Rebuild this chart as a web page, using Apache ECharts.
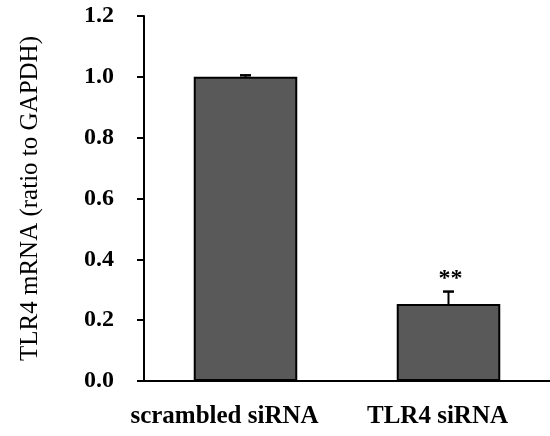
<!DOCTYPE html>
<html>
<head>
<meta charset="utf-8">
<script src="https://cdn.jsdelivr.net/npm/echarts@6/dist/echarts.min.js"></script>
<style>html,body{margin:0;padding:0;background:#fff}#c{width:550px;height:436px}</style>
</head>
<body>
<div id="c"></div>
<script>
var categories = ['scrambled siRNA', 'TLR4 siRNA'];
var values = [1.0, 0.253];
var errors = [0.005, 0.041];
var significance = ['', '**'];
var yTicks = [0, 0.2, 0.4, 0.6, 0.8, 1.0, 1.2];

var chart = echarts.init(document.getElementById('c'));
var font = '"Liberation Serif","Times New Roman",serif';
chart.setOption({
  animation: false,
  grid: { left: 144, right: -9, top: 16, bottom: 55 },
  xAxis: {
    type: 'category',
    data: categories,
    axisLine: { lineStyle: { color: '#000', width: 2 } },
    axisTick: { show: false },
    axisLabel: {
      interval: 0,
      hideOverlap: false,
      color: '#000', fontFamily: font, fontWeight: 'bold', fontSize: 25, margin: 23,
      formatter: function (v, i) { return '{c' + i + '|' + v + '}'; },
      rich: {
        c0: { fontFamily: font, fontWeight: 'bold', fontSize: 25, color: '#000', padding: [0, 42, 0, 0] },
        c1: { fontFamily: font, fontWeight: 'bold', fontSize: 25, color: '#000', padding: [0, 22, 0, 0] }
      }
    }
  },
  yAxis: {
    type: 'value',
    min: 0, max: 1.2, interval: 0.2,
    name: 'TLR4 mRNA (ratio to GAPDH)',
    nameLocation: 'middle',
    nameGap: 101,
    nameTextStyle: { color: '#000', fontFamily: font, fontSize: 25 },
    axisLine: { show: true, lineStyle: { color: '#000', width: 2 } },
    axisTick: { show: true, inside: false, length: 7, lineStyle: { color: '#000', width: 2 } },
    splitLine: { show: false },
    axisLabel: {
      color: '#000', fontFamily: font, fontWeight: 'bold', fontSize: 24, margin: 30,
      formatter: function (v) { return v.toFixed(1); }
    }
  },
  series: [
    {
      type: 'bar',
      data: values,
      barWidth: '51%',
      itemStyle: { color: '#595959', borderColor: '#000', borderWidth: 2 }
    },
    {
      type: 'custom',
      data: values.map(function (v, i) { return [i, v, errors[i]]; }),
      z: 5,
      renderItem: function (params, api) {
        var x = api.value(0), v = api.value(1), e = api.value(2);
        var base = api.coord([x, v]);
        var top = api.coord([x, v + e]);
        var hw = 5.5;
        var children = [
          { type: 'line', shape: { x1: base[0], y1: base[1], x2: top[0], y2: top[1] }, style: { stroke: '#000', lineWidth: 2 } },
          { type: 'line', shape: { x1: top[0] - hw, y1: top[1], x2: top[0] + hw, y2: top[1] }, style: { stroke: '#000', lineWidth: 2.5 } }
        ];
        var s = significance[params.dataIndex];
        if (s) {
          children.push({ type: 'text', style: { text: s, x: top[0] + 2, y: top[1] - 1, align: 'center', verticalAlign: 'bottom', font: 'bold 24px ' + font, fill: '#000' } });
        }
        return { type: 'group', children: children };
      }
    }
  ]
});
</script>
</body>
</html>
